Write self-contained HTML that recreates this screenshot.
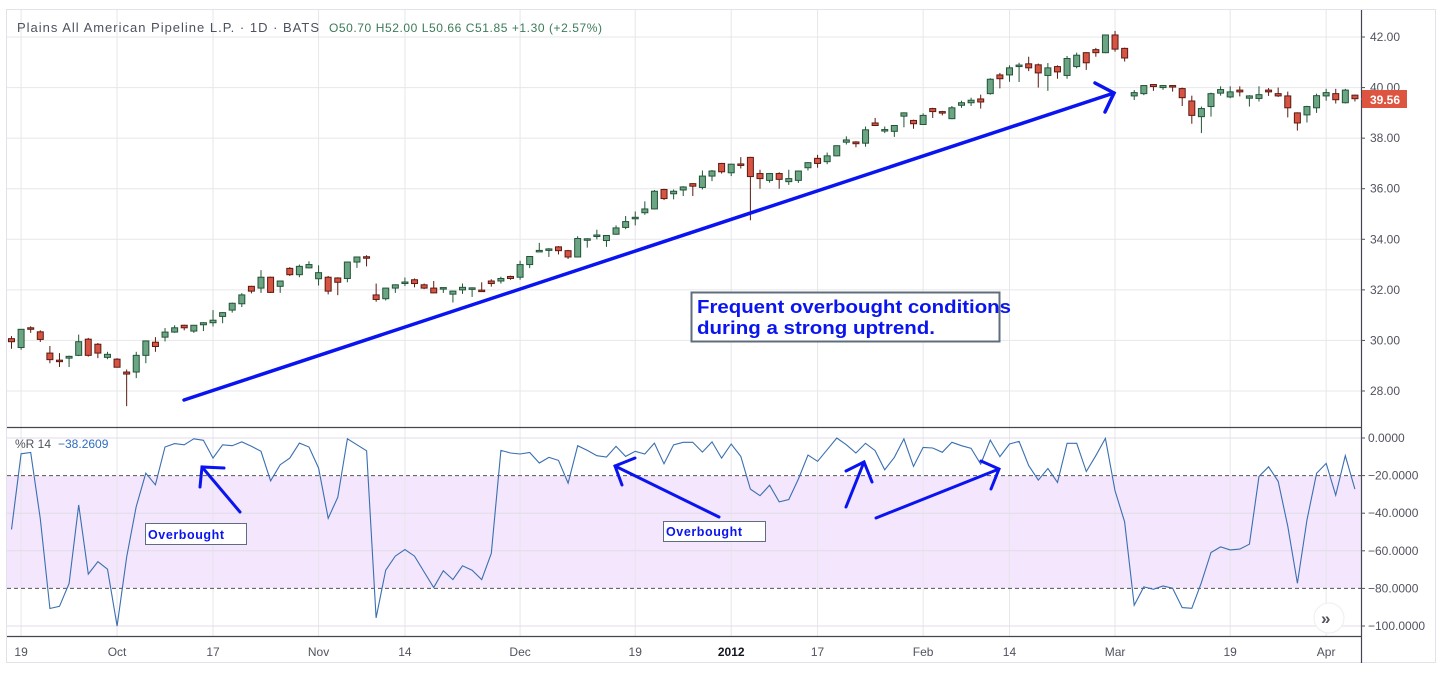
<!DOCTYPE html>
<html><head><meta charset="utf-8"><style>
html,body{margin:0;padding:0;background:#fff;}
svg{display:block;font-family:"Liberation Sans","DejaVu Sans",sans-serif;}
</style></head><body>
<svg id="chart" width="1444" height="673" viewBox="0 0 1444 673" xmlns="http://www.w3.org/2000/svg">
<rect x="0" y="0" width="1444" height="673" fill="#fff"/>
<rect x="6.5" y="9.5" width="1429" height="653" fill="none" stroke="#e0e3eb" stroke-width="1"/>
<rect x="7" y="476" width="1354" height="112" fill="#f3e6fd"/>
<g id="grid"></g>
<g id="wrgrid"></g>
<line x1="7" y1="427.5" x2="1361" y2="427.5" stroke="#434651" stroke-width="1.2"/>
<line x1="7" y1="636.5" x2="1361" y2="636.5" stroke="#434651" stroke-width="1.2"/>
<line x1="1361.5" y1="10" x2="1361.5" y2="663" stroke="#434651" stroke-width="1.2"/>
<g id="candles"></g>
<path id="wrline" fill="none" stroke="#3a6fb0" stroke-width="1.1"/>
<g id="yaxis" font-size="12" fill="#50535e"></g>
<g id="wraxis" font-size="12" fill="#50535e"></g>
<g id="xaxis" font-size="12" fill="#50535e"></g>
<g>
<line x1="1361" y1="99" x2="1366" y2="99" stroke="#d9523f"/>
<rect x="1362" y="90" width="45" height="18" fill="#dd5540"/>
<text x="1370" y="104" font-size="12" fill="#fff" font-weight="bold">39.56</text>
</g>
<text x="17" y="32" font-size="13" fill="#4c525e" textLength="302">Plains All American Pipeline L.P. · 1D · BATS</text>
<text x="329" y="32" font-size="12" fill="#3b7a57" textLength="273">O50.70 H52.00 L50.66 C51.85 +1.30 (+2.57%)</text>
<text x="15" y="448" font-size="12" fill="#50535e">%R 14</text>
<text x="58" y="448" font-size="12" fill="#2f6cc2">−38.2609</text>
<g stroke="#0a14f0" stroke-width="3.5" fill="none" stroke-linecap="round">
<line x1="184" y1="400" x2="1114" y2="93"/>
<polyline points="1095,83 1114,93 1105,112"/>
</g>
<g>
<rect x="691.5" y="292.5" width="308" height="49" fill="#fff" stroke="#5f6e7c" stroke-width="2"/>
<text x="697" y="313" font-size="18" font-weight="bold" fill="#0a14f0" textLength="314" lengthAdjust="spacingAndGlyphs">Frequent overbought conditions</text>
<text x="697" y="334" font-size="18" font-weight="bold" fill="#0a14f0" textLength="238" lengthAdjust="spacingAndGlyphs">during a strong uptrend.</text>
</g>
<g>
<rect x="145.5" y="523.5" width="101" height="21" fill="#fff" stroke="#5f6e7c"/>
<text x="148" y="539" font-size="12.5" font-weight="bold" fill="#0a14f0" textLength="76">Overbought</text>
</g>
<g>
<rect x="663.5" y="521.5" width="102" height="20" fill="#fff" stroke="#5f6e7c"/>
<text x="666" y="536" font-size="12.5" font-weight="bold" fill="#0a14f0" textLength="76">Overbought</text>
</g>
<g stroke="#0a14f0" stroke-width="3" fill="none" stroke-linecap="round">
<line x1="240" y1="512" x2="202" y2="467"/><polyline points="224,468 202,467 200,487"/>
<line x1="719" y1="517" x2="615" y2="466"/><polyline points="635,458 615,466 622,485"/>
<line x1="846" y1="507" x2="864" y2="462"/><polyline points="846,471 864,462 872,482"/>
<line x1="876" y1="518" x2="999" y2="469"/><polyline points="981,461 999,469 991,489"/>
</g>
<g>
<circle cx="1329" cy="618" r="15" fill="#fff" stroke="#eee"/>
<text x="1321" y="624" font-size="17" fill="#50535e" font-weight="bold">»</text>
</g>
</svg>
<script>
const opens=[30.07,29.72,30.50,30.34,29.50,29.22,29.30,29.41,30.05,29.85,29.33,29.26,28.75,28.75,29.41,29.93,30.13,30.33,30.60,30.37,30.62,30.70,30.95,31.20,31.45,32.14,32.07,32.50,32.14,32.85,32.60,32.87,32.44,32.50,32.47,32.45,33.10,33.31,31.80,31.65,32.07,32.28,32.40,32.20,32.07,32.07,31.83,32.00,32.02,31.99,32.35,32.35,32.53,32.50,33.00,33.54,33.58,33.70,33.55,33.30,33.98,34.13,33.95,34.20,34.47,34.85,35.05,35.20,35.97,35.80,35.95,36.20,36.05,36.50,37.00,36.63,36.98,37.24,36.60,36.33,36.60,36.28,36.33,36.83,37.20,37.07,37.30,37.84,37.85,37.80,38.60,38.32,38.27,38.87,38.70,38.54,39.17,39.05,38.77,39.30,39.40,39.55,39.76,40.50,40.50,40.86,40.94,40.90,40.48,40.83,40.48,40.83,41.38,41.50,41.38,42.08,41.55,39.67,39.76,40.12,40.00,40.08,39.96,39.47,38.85,39.25,39.78,39.63,39.90,39.58,39.57,39.90,39.76,39.67,39.00,38.92,39.20,39.67,39.76,39.40,39.70];
const highs=[30.17,30.45,30.56,30.40,29.78,29.50,29.40,30.23,30.10,29.90,29.55,29.30,28.85,29.55,30.00,30.13,30.49,30.60,30.62,30.60,30.72,31.20,31.12,31.50,31.87,32.16,32.78,32.52,32.35,32.90,33.00,33.13,32.97,32.55,32.50,33.12,33.32,33.37,32.25,32.08,32.22,32.49,32.45,32.25,32.35,32.09,31.97,32.25,32.10,32.30,32.42,32.52,32.56,33.15,33.32,33.86,33.65,33.73,33.58,34.12,34.04,34.38,34.17,34.55,34.92,35.10,35.50,35.95,36.00,35.97,36.10,36.22,36.72,36.74,37.02,36.99,37.25,37.26,36.75,36.62,36.65,36.75,36.72,37.05,37.34,37.43,37.72,38.07,37.88,38.46,38.80,38.46,38.52,39.02,38.73,38.98,39.20,39.08,39.27,39.48,39.60,39.72,40.37,40.58,40.88,40.98,41.22,40.95,40.97,40.88,41.25,41.38,41.40,41.57,42.08,42.24,41.58,39.90,40.08,40.14,40.10,40.10,40.00,39.68,39.25,39.80,40.05,40.05,40.05,39.70,40.05,39.98,40.00,39.84,39.02,39.28,39.76,39.95,39.95,39.95,39.72];
const lows=[29.67,29.63,30.30,29.94,29.10,28.95,28.95,29.38,29.36,29.30,29.26,28.94,27.40,28.51,29.10,29.55,29.96,30.30,30.40,30.30,30.37,30.55,30.68,31.10,31.32,31.86,31.88,31.88,31.88,32.55,32.50,32.85,32.17,31.82,31.79,32.30,32.87,32.93,31.53,31.58,31.88,32.15,32.10,32.03,31.88,31.88,31.50,31.84,31.72,31.95,32.13,32.25,32.40,32.40,32.86,33.50,33.30,33.40,33.22,33.28,33.67,34.00,33.70,34.18,34.40,34.55,34.97,35.18,35.55,35.58,35.71,35.71,35.97,36.30,36.60,36.50,36.80,34.75,36.00,36.24,36.00,36.15,36.23,36.72,36.83,36.97,37.28,37.75,37.64,37.66,38.50,38.20,38.05,38.43,38.37,38.52,38.80,38.90,38.75,39.20,39.27,39.17,39.72,39.97,40.23,40.22,40.65,40.00,39.87,40.35,40.35,40.76,40.70,41.22,41.36,41.42,41.03,39.51,39.70,39.87,39.91,39.84,39.27,38.57,38.20,38.85,39.68,39.58,39.65,39.25,39.45,39.67,39.63,38.82,38.30,38.62,39.00,39.48,39.37,39.37,39.45];
const closes=[29.95,30.44,30.46,30.04,29.24,29.18,29.37,29.95,29.41,29.50,29.45,28.94,28.67,29.41,29.98,29.76,30.33,30.50,30.50,30.60,30.70,30.80,31.10,31.47,31.80,31.95,32.50,31.90,32.35,32.60,32.93,33.00,32.68,31.95,32.30,33.10,33.30,33.29,31.62,32.07,32.20,32.31,32.25,32.07,31.88,32.09,31.95,32.10,32.08,31.96,32.25,32.45,32.45,33.00,33.32,33.56,33.62,33.55,33.30,34.03,34.02,34.17,34.15,34.45,34.70,34.87,35.20,35.90,35.61,35.90,36.07,36.10,36.50,36.70,36.67,36.97,36.96,36.48,36.40,36.60,36.37,36.40,36.70,37.03,37.00,37.30,37.70,37.93,37.78,38.33,38.50,38.34,38.50,39.00,38.57,38.90,39.05,39.00,39.20,39.40,39.50,39.43,40.33,40.35,40.78,40.89,40.78,40.58,40.78,40.62,41.15,41.28,40.98,41.38,42.08,41.52,41.17,39.80,40.08,40.04,40.08,40.03,39.60,38.90,39.17,39.76,39.92,39.83,39.83,39.67,39.72,39.83,39.67,39.20,38.60,39.25,39.68,39.80,39.52,39.90,39.56];
const wrValues=[-48.6,-8.4,-7.7,-43,-90.7,-89.5,-77.4,-35.6,-72.4,-65.8,-69.8,-100,-63.2,-36.5,-18.7,-24.9,-4.8,-3.0,-3.6,-0.4,-1.2,-10.7,-3.6,-4.1,-2.1,-4.4,-7.1,-22.8,-14.2,-10.7,-2.7,-4.8,-16,-42.7,-31.5,-0.4,-3.6,-6.8,-95.7,-70.3,-62.8,-59.3,-62.8,-71.2,-79.5,-70.6,-75.3,-68,-70.3,-75.3,-61.4,-6.6,-8,-8.5,-7.7,-13.3,-10.3,-11.9,-24,-4.1,-6.6,-9.4,-10.1,-4.4,-9.8,-7.1,-8.5,-2.7,-13.7,-3.6,-2.3,-2.3,-7.5,-2.1,-10.7,-3.2,-9.8,-27.2,-30.7,-25.1,-34,-32.7,-21.8,-9.1,-12.4,-6.2,0,-3.6,-8,-2.8,-6.7,-16.9,-10.3,-0.5,-15.1,-5,-5.3,-7.6,-2.3,-4.1,-5.5,-13.9,-1.1,-9.9,-3.2,-1.8,-14.7,-22.4,-16.2,-23.6,-2.8,-2.8,-17.8,-9.4,-0.2,-28,-44.6,-89,-79.2,-80.5,-78.7,-79.9,-90.2,-90.6,-76.9,-60.9,-57.9,-59.5,-59.1,-56.5,-20.4,-15.3,-23.1,-47,-77.3,-43.5,-18.8,-13.5,-30.4,-9.4,-27.2];
const priceTicks=[42,40,38,36,34,32,30,28];
const wrTicks=[0,-20,-40,-60,-80,-100];
const dateLabels=["19","Oct","17","Nov","14","Dec","19","2012","17","Feb","14","Mar","19","Apr"];
const dateIndex=[1,11,21,32,41,53,65,75,84,95,104,115,127,137];

const NS="http://www.w3.org/2000/svg";
const xOf=i=>11.5+i*9.596;
const yP=p=>37+(42-p)*25.286;
const yW=v=>438+(-v)*1.88;
function mk(tag,attrs,parent){const e=document.createElementNS(NS,tag);for(const k in attrs)e.setAttribute(k,attrs[k]);parent.appendChild(e);return e;}
const grid=document.getElementById('grid'),wrgrid=document.getElementById('wrgrid'),candles=document.getElementById('candles');
const yaxis=document.getElementById('yaxis'),wraxis=document.getElementById('wraxis'),xaxis=document.getElementById('xaxis');
priceTicks.forEach(p=>{
  const l=mk('line',{x1:7,x2:1361,y1:yP(p),y2:yP(p),stroke:'#e6e7ea','stroke-width':1},grid);
  
  
  const t=mk('text',{x:1370,y:yP(p)+4},yaxis);t.textContent=p.toFixed(2);
  
  
  mk('line',{x1:1361,x2:1365,y1:yP(p),y2:yP(p),stroke:'#50535e'},yaxis);
});
wrTicks.forEach(v=>{
  const dashed=(v===-20||v===-80);
  const l=mk('line',{x1:7,x2:1361,y1:yW(v),y2:yW(v),stroke:dashed?'#555':'#e2dbe8','stroke-width':1,'stroke-dasharray':dashed?'4,3':'none'},wrgrid);
  
  
  const t=mk('text',{x:1368,y:yW(v)+4},wraxis);t.textContent=(v===0?'0.0000':'\u2212'+(-v).toFixed(4));
  
  
  mk('line',{x1:1361,x2:1365,y1:yW(v),y2:yW(v),stroke:'#50535e'},wraxis);
});
dateLabels.forEach((d,k)=>{
  const x=xOf(dateIndex[k]);
  const l=mk('line',{x1:x,x2:x,y1:10,y2:636,stroke:'#e6e7ea','stroke-width':1},grid);
  
  
  const t=mk('text',{x:x,y:656,'text-anchor':'middle','font-weight':d==='2012'?'bold':'normal',fill:d==='2012'?'#131722':'#50535e'},xaxis);t.textContent=d;
  
  
});
opens.forEach((o,i)=>{
  const c=closes[i],up=c>=o,x=xOf(i);
  const g=mk('g',{},candles);
  
  
  mk('line',{x1:x,x2:x,y1:yP(highs[i]),y2:yP(lows[i]),stroke:up?'#225437':'#5b1a13','stroke-width':1},g);
  const top=yP(Math.max(o,c)),bot=yP(Math.min(o,c));
  mk('rect',{x:x-3,y:top,width:6,height:Math.max(1.5,bot-top),fill:up?'#6ba583':'#d75442',stroke:up?'#225437':'#5b1a13','stroke-width':1},g);
});
document.getElementById('wrline').setAttribute('d',wrValues.map((v,i)=>(i?'L':'M')+xOf(i).toFixed(1)+','+yW(v).toFixed(1)).join(''));
</script>
</body></html>
